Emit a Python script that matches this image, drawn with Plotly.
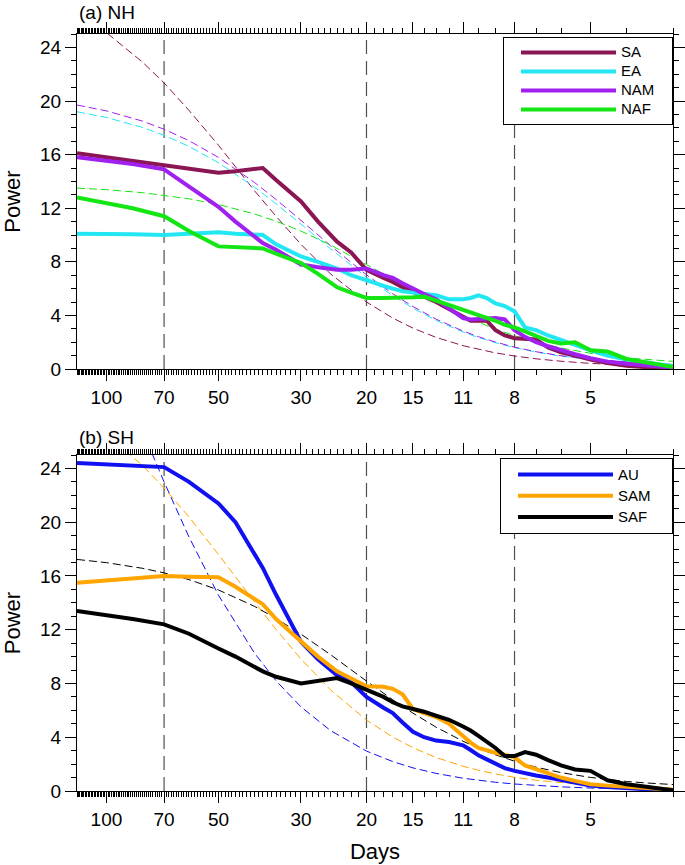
import math
import plotly.graph_objects as go

# ---------------- data ----------------
days = [120, 100, 85, 70, 60, 50, 45, 38, 35, 30, 27, 24, 22, 20, 18, 17, 16, 15, 14, 13,
        12, 11, 10.5, 10, 9.5, 9, 8.5, 8, 7.5, 7, 6.5, 6, 5.5, 5, 4.5, 4, 3.5, 3]

sa = [16.1, 15.8, 15.5, 15.2, 14.9, 14.65, 14.75, 15.0, 14.1, 12.5, 11.0, 9.5, 8.7, 7.4, 6.8, 6.5, 6.1, 5.8, 5.4, 5.0,
      4.5, 3.9, 3.6, 3.6, 3.6, 2.9, 2.5, 2.3, 2.25, 2.2, 1.6, 1.25, 1.0, 0.7, 0.45, 0.25, 0.12, 0.0]
ea = [10.1, 10.1, 10.05, 10.0, 10.1, 10.2, 10.1, 10.0, 9.3, 8.4, 8.0, 7.5, 7.0, 6.6, 6.2, 6.0, 5.8, 5.7, 5.6, 5.5,
      5.2, 5.2, 5.3, 5.5, 5.3, 4.9, 4.7, 4.3, 3.1, 2.9, 2.5, 2.2, 1.8, 1.4, 1.0, 0.7, 0.45, 0.2]
nam = [15.8, 15.55, 15.3, 14.9, 13.6, 12.1, 11.0, 9.4, 8.9, 7.8, 7.6, 7.4, 7.4, 7.5, 7.0, 6.8, 6.4, 6.0, 5.6, 5.2,
       4.5, 3.8, 3.7, 3.75, 3.8, 3.8, 3.7, 2.9, 2.4, 2.0, 1.7, 1.4, 1.1, 0.8, 0.55, 0.4, 0.25, 0.1]
naf = [12.8, 12.4, 12.0, 11.4, 10.3, 9.15, 9.1, 9.0, 8.6, 7.9, 7.1, 6.1, 5.7, 5.3, 5.3, 5.3, 5.3, 5.35, 5.4, 5.1,
       4.8, 4.4, 4.2, 4.0, 3.8, 3.6, 3.3, 3.1, 2.8, 2.5, 2.1, 1.9, 2.0, 1.4, 1.3, 0.75, 0.45, 0.15]

au = [24.4, 24.3, 24.25, 24.1, 23.0, 21.4, 20.0, 16.6, 14.6, 11.1, 9.8, 8.6, 8.1, 7.0, 6.2, 5.8, 5.1, 4.4, 4.0, 3.75,
      3.65, 3.4, 3.05, 2.65, 2.35, 2.0, 1.7, 1.5, 1.3, 1.15, 1.0, 0.8, 0.6, 0.4, 0.3, 0.2, 0.12, 0.05]
sam = [15.5, 15.65, 15.8, 16.0, 15.95, 15.9, 15.2, 13.9, 12.8, 11.1, 10.0, 8.9, 8.4, 7.8, 7.75, 7.6, 7.2, 6.1, 5.8, 5.5,
       5.0, 4.1, 3.6, 3.2, 3.0, 2.85, 2.7, 2.5, 1.9, 1.6, 1.3, 1.0, 0.75, 0.5, 0.4, 0.3, 0.2, 0.1]
saf = [13.4, 13.1, 12.8, 12.4, 11.7, 10.6, 10.0, 8.9, 8.5, 8.0, 8.2, 8.4, 8.0, 7.5, 7.0, 6.6, 6.3, 6.1, 5.9, 5.6,
       5.3, 4.8, 4.5, 4.1, 3.7, 3.2, 2.6, 2.6, 2.9, 2.7, 2.3, 1.9, 1.6, 1.5, 0.8, 0.5, 0.3, 0.05]

# red-noise reference spectra (dashed)
red_days = [120, 100, 80, 70, 60, 50, 40, 35, 30, 25, 20, 17, 15, 13, 11, 10, 9, 8, 7, 6, 5, 4, 3.5, 3]
sa_red = [26.5, 25.1, 22.9, 21.35, 19.3, 16.7, 13.3, 11.4, 9.3, 7.1, 5.0, 3.8, 3.05, 2.36, 1.74, 1.46, 1.2, 0.97,
          0.76, 0.58, 0.42, 0.29, 0.24, 0.19]
ea_red = [19.2, 18.77, 18.03, 17.44, 16.61, 15.39, 13.57, 12.33, 10.81, 8.98, 6.85, 5.47, 4.54, 3.63, 2.76, 2.35,
          1.96, 1.59, 1.26, 0.96, 0.71, 0.5, 0.41, 0.33]
nam_red = [19.7, 19.26, 18.5, 17.89, 17.04, 15.79, 13.92, 12.65, 11.09, 9.21, 7.03, 5.61, 4.66, 3.72, 2.83, 2.41,
           2.01, 1.63, 1.29, 0.99, 0.73, 0.51, 0.42, 0.34]
naf_red = [13.5, 13.38, 13.16, 12.97, 12.7, 12.28, 11.57, 11.03, 10.29, 9.26, 7.82, 6.72, 5.88, 4.96, 3.97, 3.47,
           2.97, 2.48, 2.01, 1.57, 1.17, 0.83, 0.69, 0.57]
au_red = [38.3, 33.3, 26.8, 23.0, 18.9, 14.57, 10.26, 8.2, 6.26, 4.5, 2.97, 2.19, 1.72, 1.31, 0.95, 0.79, 0.65,
          0.52, 0.4, 0.31, 0.22, 0.15, 0.125, 0.1]
sam_red = [27.96, 26.52, 24.22, 22.55, 20.39, 17.6, 14.07, 12.02, 9.82, 7.53, 5.28, 4.01, 3.22, 2.49, 1.84, 1.54,
           1.27, 1.02, 0.8, 0.61, 0.44, 0.31, 0.25, 0.21]
saf_red = [17.23, 16.99, 16.57, 16.23, 15.73, 14.96, 13.74, 12.84, 11.67, 10.15, 8.18, 6.79, 5.79, 4.75, 3.7, 3.19,
           2.69, 2.22, 1.77, 1.37, 1.01, 0.71, 0.59, 0.48]

marker_days = [70, 20, 8]
major_ticks = [100, 70, 50, 30, 20, 15, 11, 8, 5]
minor_ticks = list(range(3, 121))
power_ticks = [0, 4, 8, 12, 16, 20, 24]

nh_series = [("SA", "#8B1654", sa, sa_red), ("EA", "#22E6F2", ea, ea_red),
             ("NAM", "#A020F0", nam, nam_red), ("NAF", "#14E614", naf, naf_red)]
sh_series = [("AU", "#1010F0", au, au_red), ("SAM", "#FFA500", sam, sam_red),
             ("SAF", "#000000", saf, saf_red)]

FONT = "Liberation Sans, Arial, Helvetica, sans-serif"
YMAX = 25

fig = go.Figure()


def add_panel(xa, ya, leg, series):
    for d in marker_days:
        fig.add_trace(go.Scatter(x=[d, d], y=[0, YMAX], mode="lines",
                                 line=dict(color="#505050", width=1.2, dash="14px,7px"),
                                 xaxis=xa, yaxis=ya, showlegend=False, hoverinfo="skip"))
    for name, color, vals, red in series:
        fig.add_trace(go.Scatter(x=red_days, y=red, mode="lines",
                                 line=dict(color=color, width=1, dash="8px,4px"),
                                 xaxis=xa, yaxis=ya, showlegend=False, hoverinfo="skip"))
    for name, color, vals, red in series:
        fig.add_trace(go.Scatter(x=days, y=vals, mode="lines",
                                 name="<span style='font-size:15px'>%s</span>&nbsp;&nbsp;&nbsp;&nbsp;" % name,
                                 line=dict(color=color, width=4),
                                 xaxis=xa, yaxis=ya, legend=leg))


add_panel("x", "y", "legend", nh_series)
add_panel("x2", "y2", "legend2", sh_series)

tickfont = dict(family=FONT, size=19, color="black")
xcommon = dict(type="log", range=[math.log10(120), math.log10(3)], automargin=False,
               tickmode="array", tickvals=major_ticks, ticktext=[str(v) for v in major_ticks],
               ticks="outside", ticklen=11, tickwidth=1, tickcolor="black",
               showline=True, linecolor="black", linewidth=1.3, mirror="ticks",
               showgrid=False, zeroline=False, tickfont=tickfont,
               minor=dict(tickmode="array", tickvals=minor_ticks, ticks="outside",
                          ticklen=5, tickwidth=1, tickcolor="black", showgrid=False))
ycommon = dict(range=[0, YMAX], automargin=False, tickmode="array", tickvals=power_ticks,
               ticks="outside", ticklen=11, tickwidth=1, tickcolor="black",
               showline=True, linecolor="black", linewidth=1.3, mirror="ticks",
               showgrid=False, zeroline=False, tickfont=tickfont,
               minor=dict(tickmode="linear", tick0=0, dtick=1, ticks="outside",
                          ticklen=5, tickwidth=1, tickcolor="black", showgrid=False),
               title=dict(text="Power", font=dict(family=FONT, size=22, color="black"), standoff=14))

H_PLOT = 865 - 34 - 74
top_b = (791 - 455) / H_PLOT
bot_a = (791 - 369) / H_PLOT

legcommon = dict(xanchor="right", x=1.0, yanchor="top", bordercolor="black", borderwidth=1,
                 bgcolor="white", itemwidth=95, tracegroupgap=0, indentation=12)

fig.update_layout(
    template="none",
    font=dict(family=FONT, color="black"),
    width=685, height=865,
    margin=dict(l=77, r=12, t=34, b=74, autoexpand=False),
    paper_bgcolor="white", plot_bgcolor="white",
    showlegend=True,
    xaxis=dict(xcommon, domain=[0, 1], anchor="y"),
    yaxis=dict(ycommon, domain=[bot_a, 1], anchor="x"),
    xaxis2=dict(xcommon, domain=[0, 1], anchor="y2",
                title=dict(text="Days", font=dict(family=FONT, size=22, color="black"), standoff=14)),
    yaxis2=dict(ycommon, domain=[0, top_b], anchor="x2"),
    legend=dict(legcommon, y=1 - 3 / H_PLOT, font=dict(family=FONT, size=11, color="black")),
    legend2=dict(legcommon, y=top_b - 3 / H_PLOT, font=dict(family=FONT, size=14, color="black")),
    annotations=[
        dict(text="(a) NH", x=0, xref="paper", xanchor="left", y=1 + 22 / H_PLOT, yref="paper",
             yanchor="middle", showarrow=False, font=dict(family=FONT, size=19, color="black")),
        dict(text="(b) SH", x=0, xref="paper", xanchor="left", y=top_b + 18 / H_PLOT, yref="paper",
             yanchor="middle", showarrow=False, font=dict(family=FONT, size=19, color="black")),
    ],
)

# remove the default 8px page margin so the figure fills the window exactly
fig.write_html("out.html",
               config={"displayModeBar": False},
               post_script="document.body.style.margin='0';document.body.style.overflow='hidden';")
